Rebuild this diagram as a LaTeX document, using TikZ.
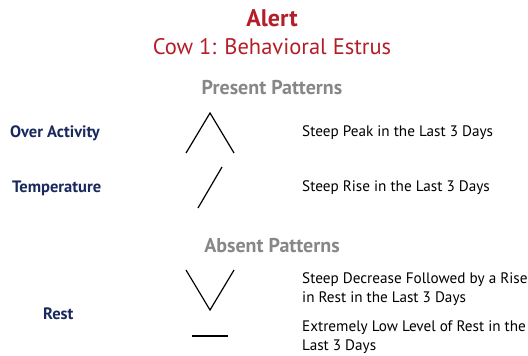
\documentclass[tikz,border=0pt]{standalone}
\usepackage{fontspec}
\setmainfont{PT Sans}
\definecolor{alertred}{RGB}{180,30,40}
\definecolor{navy}{RGB}{25,40,95}
\definecolor{headgray}{RGB}{135,135,135}
\tikzset{
  signal/.style={font=\fontsize{16.5}{19}\selectfont\bfseries,text=navy,anchor=west,inner sep=0pt},
  heading/.style={font=\fontsize{20}{24}\selectfont\bfseries,text=headgray},
  desc/.style={font=\fontsize{15.2}{19}\selectfont,anchor=west,align=left,inner sep=0pt},
  glyph/.style={line width=1.2pt,black}
}
\begin{document}
\begin{tikzpicture}[x=1pt,y=-1pt]
    \useasboundingbox (0,0) rectangle (528,356);
    \node[font=\fontsize{24}{28}\selectfont\bfseries,text=alertred] (alert) at (272,18) {Alert};
    \node[font=\fontsize{22.5}{26}\selectfont,text=alertred] (cow) at (272,47) {Cow 1: Behavioral Estrus};
    \node[heading] (present) at (272,88) {Present Patterns};
    \node[signal] (activity) at (10,133) {Over Activity};
    \node[signal] (temp) at (12,188) {Temperature};
    \node[desc] (peak) at (302,133) {Steep Peak in the Last 3 Days};
    \node[desc] (rise) at (302,188) {Steep Rise in the Last 3 Days};
    \draw[glyph] (186,153)--(210,113)--(234,153);
    \draw[glyph] (198,208)--(222,167);
    \node[heading] (absent) at (272,246) {Absent Patterns};
    \node[signal] (rest) at (43,314) {Rest};
    \draw[glyph] (186,270)--(210,310)--(234,270);
    \draw[glyph] (192,336)--(228,336);
    \node[desc] (dip) at (302,289.5) {Steep Decrease Followed by a Rise\\in Rest in the Last 3 Days};
    \node[desc] (low) at (302,337.5) {Extremely Low Level of Rest in the\\Last 3 Days};
\end{tikzpicture}
\end{document}
